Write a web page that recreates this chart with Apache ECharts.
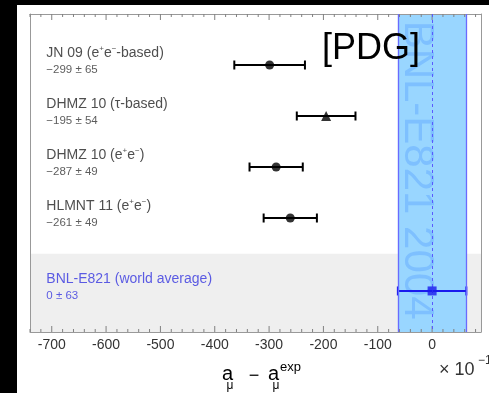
<!DOCTYPE html>
<html>
<head>
<meta charset="utf-8">
<script src="https://cdn.jsdelivr.net/npm/echarts@6/dist/echarts.min.js"></script>
<style>
  html, body { margin: 0; padding: 0; background: #000; }
  #main { position: absolute; left: 17px; top: 5px; width: 472px; height: 388px; background: #fff; }
</style>
</head>
<body>
<div id="main"></div>
<script>
// measurements, x in units of 1e-11
var names = ['JN 09', 'DHMZ 10', 'DHMZ 10', 'HLMNT 11', 'BNL-E821'];
var notes = ['(e⁺e⁻-based)', '(τ-based)', '(e⁺e⁻)', '(e⁺e⁻)', '(world average)'];
var central = [-299, -195, -287, -261, 0];
var errors = [65, 54, 49, 49, 63];
var rowPos = [1, 2, 3, 4, 5.43];
var markers = ['circle', 'triangle', 'circle', 'circle', 'rect'];
var majorTicks = [-700, -600, -500, -400, -300, -200, -100, 0];
var minorTicks = [];
for (var t = -740; t <= 80; t += 20) if (t % 100 !== 0) minorTicks.push(t);
var xMin = -740, xMax = 90;
var yMax = 6.235;
var grayBandStart = 4.7;

var FONT = '"Liberation Sans", Arial, sans-serif';
var LABEL_X = -710;
var BLUE = '#1a1aee';
var worldIdx = 4;
var wLo = central[worldIdx] - errors[worldIdx];
var wHi = central[worldIdx] + errors[worldIdx];

function richNote(s) {
  // turn unicode superscripts into rich tokens
  return '{t|' + s.replace(/⁺/g, '}{sup|+}{t|').replace(/⁻/g, '}{sup|−}{t|') + '}';
}
function fmtVal(v, e) {
  return (v < 0 ? '−' + (-v) : String(v)) + ' ± ' + e;
}

var chart = echarts.init(document.getElementById('main'), null, { renderer: 'canvas' });

function xAxisDef(pos) {
  return {
    type: 'value', min: xMin, max: xMax, position: pos,
    axisLine: { show: true, onZero: false, lineStyle: { color: '#999' } },
    axisTick: { show: false },
    axisLabel: pos === 'bottom'
      ? { show: true, customValues: majorTicks, margin: 6, fontSize: 14, color: '#333', fontFamily: FONT }
      : { show: false },
    splitLine: { show: false }
  };
}
function yAxisDef(pos) {
  return {
    type: 'value', min: 0, max: yMax, inverse: true, position: pos,
    axisLine: { show: true, onZero: false, lineStyle: { color: '#999' } },
    axisTick: { show: false }, axisLabel: { show: false }, splitLine: { show: false }
  };
}

// shaded bands: [x0, x1, y0, y1, colour index]
var bandColors = ['#efefef', '#99d6ff'];
var bandData = [
  [xMin, xMax, grayBandStart, yMax, 0],
  [wLo, wHi, 0, yMax, 1]
];
// tick marks on bottom and top frame: [value, isMajor]
var tickData = majorTicks.map(function(v) { return [v, 1]; })
  .concat(minorTicks.map(function(v) { return [v, 0]; }));

var errData = central.map(function(c, i) { return [rowPos[i], c - errors[i], c + errors[i], i]; });
var markerData = central.map(function(c, i) {
  return {
    value: [c, rowPos[i]],
    symbol: markers[i],
    symbolSize: markers[i] === 'triangle' ? 10 : 9,
    itemStyle: { color: i === worldIdx ? BLUE : '#000' }
  };
});
var labelData = names.map(function(n, i) {
  var col = i === worldIdx ? '#3535e0' : '#222';
  var col2 = i === worldIdx ? '#3535e0' : '#333';
  return {
    value: [LABEL_X, rowPos[i]],
    label: {
      formatter: '{t|' + n + ' }' + richNote(notes[i]) + '\n{v|' + fmtVal(central[i], errors[i]) + '}',
      rich: {
        t: { fontSize: 14, lineHeight: 17, color: col, fontFamily: FONT },
        sup: { fontSize: 8, lineHeight: 8, verticalAlign: 'top', color: col, fontFamily: FONT },
        v: { fontSize: 11.5, lineHeight: 16, color: col2, fontFamily: FONT }
      }
    }
  };
});

chart.setOption({
  animation: false,
  grid: { left: 13, right: 8, top: 9, bottom: 61 },
  xAxis: [xAxisDef('bottom'), xAxisDef('top')],
  yAxis: [yAxisDef('left'), yAxisDef('right')],
  series: [
    {
      type: 'custom', z: 0, silent: true,
      data: bandData,
      encode: { x: [0, 1], y: [2, 3] },
      renderItem: function(params, api) {
        var p0 = api.coord([api.value(0), api.value(2)]);
        var p1 = api.coord([api.value(1), api.value(3)]);
        return {
          type: 'rect',
          shape: { x: Math.min(p0[0], p1[0]), y: Math.min(p0[1], p1[1]),
                   width: Math.abs(p1[0] - p0[0]), height: Math.abs(p1[1] - p0[1]) },
          style: { fill: bandColors[api.value(4)] }
        };
      }
    },
    {
      // band edges and the central dashed line
      type: 'scatter', z: 1, symbolSize: 0, silent: true,
      data: [[xMin, 0]],
      markLine: {
        silent: true, symbol: 'none', label: { show: false },
        data: [
          { xAxis: wLo, lineStyle: { color: '#6a6aff', width: 1.3, type: 'solid' } },
          { xAxis: wHi, lineStyle: { color: '#6a6aff', width: 1.3, type: 'solid' } },
          { xAxis: central[worldIdx], lineStyle: { color: '#5a5aff', width: 1, type: [3, 3] } }
        ]
      }
    },
    {
      // inward tick marks on bottom and top edges
      type: 'custom', z: 3, silent: true, clip: false,
      data: tickData,
      encode: { x: 0 },
      renderItem: function(params, api) {
        var v = api.value(0);
        var len = api.value(1) ? 6 : 3;
        var top = api.coord([v, 0]);
        var bot = api.coord([v, yMax]);
        var st = { stroke: '#808080', lineWidth: 1 };
        return {
          type: 'group',
          children: [
            { type: 'line', shape: { x1: bot[0], y1: bot[1], x2: bot[0], y2: bot[1] - len }, style: st },
            { type: 'line', shape: { x1: top[0], y1: top[1], x2: top[0], y2: top[1] + len }, style: st }
          ]
        };
      }
    },
    {
      // vertical experiment caption inside the band
      type: 'scatter', z: 2, symbolSize: 0, silent: true,
      data: [[-29, 3.06]],
      label: {
        show: true, position: 'inside', rotate: -90, formatter: 'BNL-E821 2004',
        fontSize: 42, color: 'rgba(90,165,255,0.55)', fontFamily: FONT
      }
    },
    {
      type: 'custom', z: 4,
      data: errData,
      encode: { x: [1, 2], y: 0 },
      renderItem: function(params, api) {
        var y = api.value(0);
        var a = api.coord([api.value(1), y]);
        var b = api.coord([api.value(2), y]);
        var col = api.value(3) === worldIdx ? BLUE : '#000';
        var st = { stroke: col, lineWidth: 2 };
        var h = 4.5;
        return {
          type: 'group',
          children: [
            { type: 'line', shape: { x1: a[0], y1: a[1], x2: b[0], y2: b[1] }, style: st },
            { type: 'line', shape: { x1: a[0], y1: a[1] - h, x2: a[0], y2: a[1] + h }, style: st },
            { type: 'line', shape: { x1: b[0], y1: b[1] - h, x2: b[0], y2: b[1] + h }, style: st }
          ]
        };
      }
    },
    {
      type: 'scatter', z: 5, silent: true,
      data: markerData
    },
    {
      type: 'scatter', z: 5, symbolSize: 0, silent: true,
      data: labelData,
      label: { show: true, position: 'inside', align: 'left', verticalAlign: 'middle', offset: [0, -4] }
    }
  ],
  graphic: [
    { type: 'text', left: 305, top: 26, z: 100, style: { text: '[PDG]', font: '36px ' + FONT, fill: '#000' } },
    { type: 'text', x: 205, y: 369, z: 100, style: { text: 'a', font: '20px ' + FONT, fill: '#000', verticalAlign: 'middle' } },
    { type: 'text', x: 213, y: 381, z: 100, style: { text: 'μ', font: '12px ' + FONT, fill: '#000', align: 'center', verticalAlign: 'middle' } },
    { type: 'text', x: 237, y: 371, z: 100, style: { text: '−', font: '18px ' + FONT, fill: '#000', align: 'center', verticalAlign: 'middle' } },
    { type: 'text', x: 251, y: 369, z: 100, style: { text: 'a', font: '20px ' + FONT, fill: '#000', verticalAlign: 'middle' } },
    { type: 'text', x: 259, y: 381, z: 100, style: { text: 'μ', font: '12px ' + FONT, fill: '#000', align: 'center', verticalAlign: 'middle' } },
    { type: 'text', x: 263, y: 362, z: 100, style: { text: 'exp', font: '13px ' + FONT, fill: '#000', verticalAlign: 'middle' } },
    { type: 'text', x: 422, y: 365, z: 100, style: { text: '× 10', font: '18px ' + FONT, fill: '#333', verticalAlign: 'middle' } },
    { type: 'text', x: 461, y: 356, z: 100, style: { text: '−11', font: '12px ' + FONT, fill: '#333', verticalAlign: 'middle' } }
  ]
});
</script>
</body>
</html>
